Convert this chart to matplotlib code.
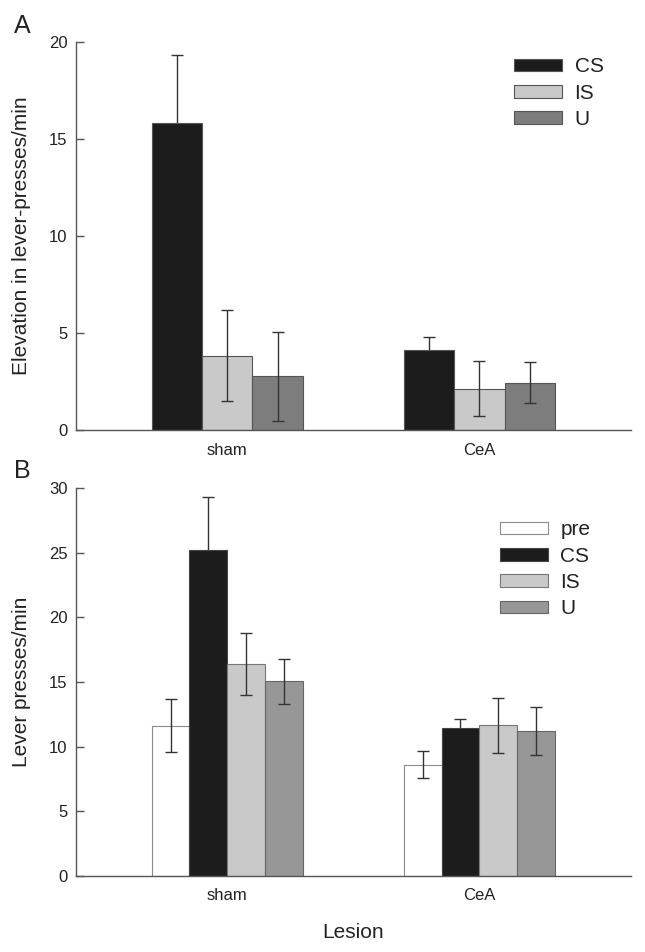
import numpy as np
import matplotlib
matplotlib.use("Agg")
import matplotlib.pyplot as plt

plt.rcParams['font.family'] = ['Liberation Sans', 'DejaVu Sans']

groups = ["sham", "CeA"]

# panel A: elevation over baseline
a_labels = ["CS", "IS", "U"]
a_means = [[15.8, 4.12], [3.85, 2.15], [2.78, 2.45]]
a_errs = [[3.55, 0.66], [2.35, 1.40], [2.30, 1.05]]
a_colors = ["#1c1c1c", "#c9c9c9", "#7d7d7d"]

# panel B: raw rates
b_labels = ["pre", "CS", "IS", "U"]
b_means = [[11.63, 8.60], [25.25, 11.45], [16.40, 11.65], [15.05, 11.20]]
b_errs = [[2.05, 1.03], [4.05, 0.70], [2.40, 2.15], [1.77, 1.85]]
b_colors = ["#ffffff", "#1c1c1c", "#c9c9c9", "#979797"]
b_edges = ["#8a8a8a", "#444444", "#777777", "#666666"]

txt = "#222222"
spine = "#555555"

fig = plt.figure(figsize=(6.45, 9.52), dpi=100)
axA = fig.add_axes([0.1178, 0.548, 0.860, 0.408])
axB = fig.add_axes([0.1178, 0.0801, 0.860, 0.407])


def style(ax, ymax, step):
    for s in ["top", "right"]:
        ax.spines[s].set_visible(False)
    for s in ["left", "bottom"]:
        ax.spines[s].set_color(spine)
        ax.spines[s].set_linewidth(1.0)
    ax.set_ylim(0, ymax)
    ax.set_yticks(np.arange(0, ymax + 1, step))
    ax.set_xlim(-0.6, 1.6)
    ax.set_xticks(range(len(groups)))
    ax.set_xticklabels(groups, fontsize=12, color=txt)
    ax.tick_params(axis="x", length=0, pad=9)
    ax.tick_params(axis="y", direction="in", length=6, width=1, color=spine,
                   labelsize=12, labelcolor=txt, pad=6)


def bars(ax, labels, means, errs, colors, edges, w):
    n = len(labels)
    for i in range(n):
        off = (i - (n - 1) / 2) * w
        ax.bar(x + off, means[i], w, color=colors[i], edgecolor=edges[i],
               linewidth=0.8, label=labels[i], zorder=2)
        # black bars hide the lower half of their error bar
        z = 1 if labels[i] == "CS" else 3
        ax.errorbar(x + off, means[i], yerr=errs[i], fmt="none",
                    ecolor="#333333", elinewidth=1, capsize=4.5, capthick=1, zorder=z)


x = np.arange(len(groups))

bars(axA, a_labels, a_means, a_errs, a_colors, ["#555555"] * 3, 0.2)
style(axA, 20, 5)
axA.set_ylabel("Elevation in lever-presses/min", fontsize=15, color=txt, labelpad=13)
axA.legend(loc="upper left", bbox_to_anchor=(0.79, 0.96), frameon=False,
           fontsize=15, handlelength=2.3, handleheight=0.55, labelspacing=0.35,
           handletextpad=0.6, borderaxespad=0, borderpad=0, labelcolor=txt)

bars(axB, b_labels, b_means, b_errs, b_colors, b_edges, 0.15)
style(axB, 30, 5)
axB.set_ylabel("Lever presses/min", fontsize=15, color=txt, labelpad=13)
axB.set_xlabel("Lesion", fontsize=15, color=txt, labelpad=14)
axB.legend(loc="upper left", bbox_to_anchor=(0.764, 0.917), frameon=False,
           fontsize=15, handlelength=2.3, handleheight=0.55, labelspacing=0.35,
           handletextpad=0.6, borderaxespad=0, borderpad=0, labelcolor=txt)

fig.text(14 / 645, 1 - 33 / 952, "A", fontsize=18, color=txt)
fig.text(14 / 645, 1 - 478 / 952, "B", fontsize=18, color=txt)

fig.savefig("out.png", dpi=100)
